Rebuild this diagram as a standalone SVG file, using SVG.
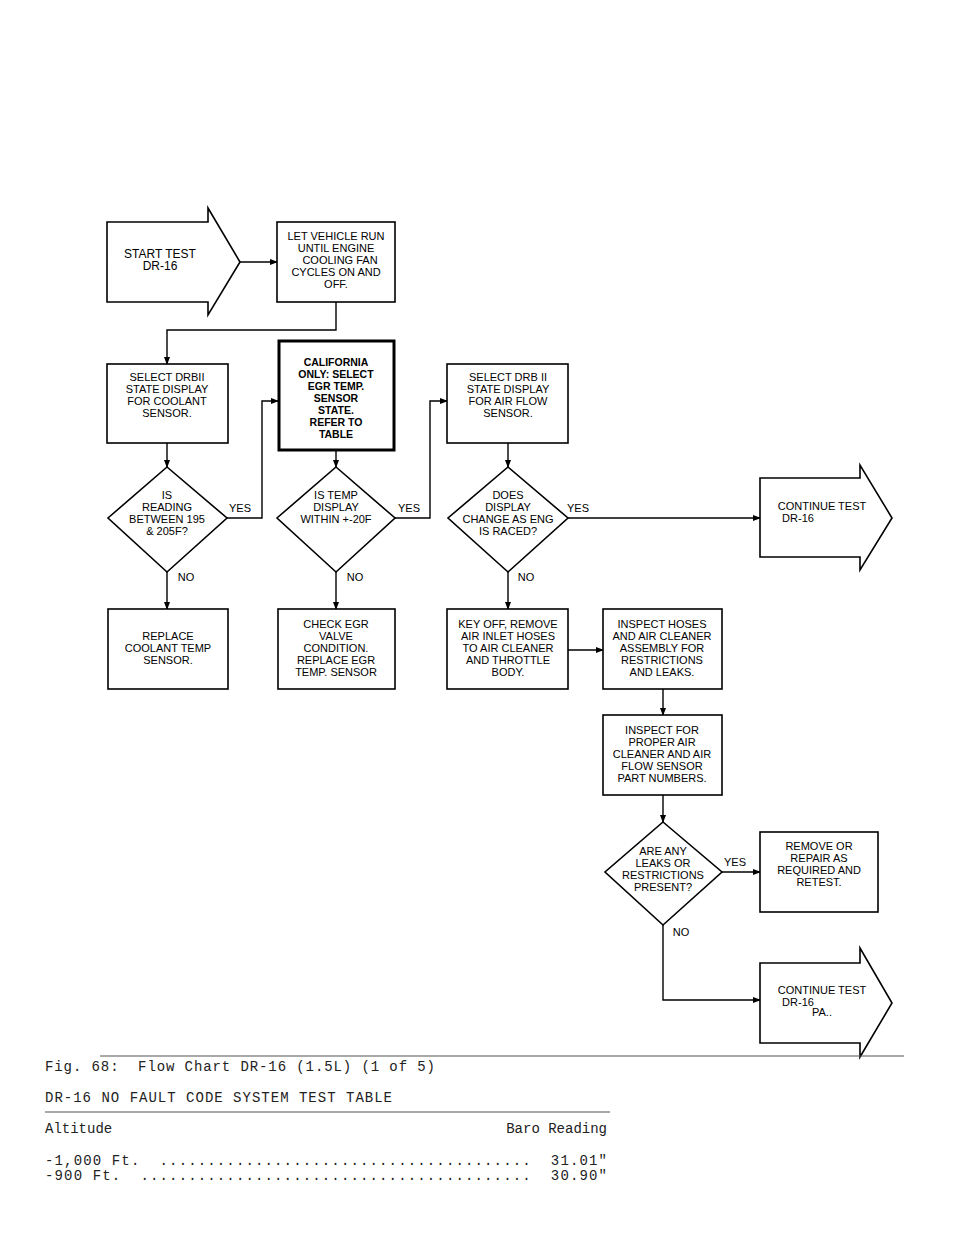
<svg xmlns="http://www.w3.org/2000/svg" width="960" height="1242" viewBox="0 0 960 1242">
<style>
.s{fill:#fff;stroke:#000;stroke-width:1.6}
.b{fill:#fff;stroke:#000;stroke-width:3}
.c{stroke:#000;stroke-width:1.4;fill:none}
text{font-family:"Liberation Sans",Arial,sans-serif;font-size:11px;fill:#000;text-anchor:middle}
.bold{font-weight:bold;font-size:10.5px}
.m{font-family:"Liberation Mono","Courier New",monospace;font-size:14px;text-anchor:start;fill:#222;white-space:pre}
</style>
<defs><marker id="a" markerWidth="8" markerHeight="6" refX="7" refY="3" orient="auto" markerUnits="userSpaceOnUse"><path d="M0,0 L8,3 L0,6 z" fill="#000"/></marker></defs>
<rect width="960" height="1242" fill="#fff"/>
<g id="connectors" class="c">
<path d="M240,262 H277" marker-end="url(#a)"/>
<path d="M336,302 V330 H167 V364" marker-end="url(#a)"/>
<path d="M167,443 V467" marker-end="url(#a)"/>
<path d="M336,451 V467" marker-end="url(#a)"/>
<path d="M508,443 V467" marker-end="url(#a)"/>
<path d="M227,518 H262 V401 H278" marker-end="url(#a)"/>
<path d="M395,518 H430 V401 H447" marker-end="url(#a)"/>
<path d="M568,518 H760" marker-end="url(#a)"/>
<path d="M167,572 V609" marker-end="url(#a)"/>
<path d="M336,572 V609" marker-end="url(#a)"/>
<path d="M508,572 V609" marker-end="url(#a)"/>
<path d="M568,650 H603" marker-end="url(#a)"/>
<path d="M663,689 V715" marker-end="url(#a)"/>
<path d="M663,795 V822" marker-end="url(#a)"/>
<path d="M722,872 H760" marker-end="url(#a)"/>
<path d="M663,925 V1000 H760" marker-end="url(#a)"/>
</g>
<g id="labels">
<text x="240" y="512">YES</text><text x="409" y="512">YES</text><text x="578" y="512">YES</text><text x="735" y="866">YES</text>
<text x="186" y="581">NO</text><text x="355" y="581">NO</text><text x="526" y="581">NO</text><text x="681" y="936">NO</text>
</g>
<g id="start"><polygon class="s" points="107,222 208,222 208,208 240,262 208,315 208,302 107,302"/><text x="160" y="258" style="font-size:12px">START TEST</text><text x="160" y="270" style="font-size:12px">DR-16</text></g>
<g id="letrun"><rect class="s" x="277" y="222" width="118" height="80"/><text x="336" y="240">LET VEHICLE RUN</text><text x="336" y="252">UNTIL ENGINE</text><text x="340" y="264">COOLING FAN</text><text x="336" y="276">CYCLES ON AND</text><text x="336" y="288">OFF.</text></g>
<g id="selcool"><rect class="s" x="107" y="364" width="121" height="79"/><text x="167" y="381">SELECT DRBII</text><text x="167" y="393">STATE DISPLAY</text><text x="167" y="405">FOR COOLANT</text><text x="167" y="417">SENSOR.</text></g>
<g id="calif"><rect class="b" x="279" y="341" width="115" height="109"/><text class="bold" x="336" y="366">CALIFORNIA</text><text class="bold" x="336" y="378">ONLY: SELECT</text><text class="bold" x="336" y="390">EGR TEMP.</text><text class="bold" x="336" y="402">SENSOR</text><text class="bold" x="336" y="414">STATE.</text><text class="bold" x="336" y="426">REFER TO</text><text class="bold" x="336" y="438">TABLE</text></g>
<g id="selair"><rect class="s" x="447" y="364" width="121" height="79"/><text x="508" y="381">SELECT DRB II</text><text x="508" y="393">STATE DISPLAY</text><text x="508" y="405">FOR AIR FLOW</text><text x="508" y="417">SENSOR.</text></g>
<g id="d1"><polygon class="s" points="167,467 227,518 167,572 108,518"/><text x="167" y="499">IS</text><text x="167" y="511">READING</text><text x="167" y="523">BETWEEN 195</text><text x="167" y="535">&amp; 205F?</text></g>
<g id="d2"><polygon class="s" points="336,467 395,518 336,572 277,518"/><text x="336" y="499">IS TEMP</text><text x="336" y="511">DISPLAY</text><text x="336" y="523">WITHIN +-20F</text></g>
<g id="d3"><polygon class="s" points="508,467 568,518 508,572 448,518"/><text x="508" y="499">DOES</text><text x="508" y="511">DISPLAY</text><text x="508" y="523">CHANGE AS ENG</text><text x="508" y="535">IS RACED?</text></g>
<g id="cont1"><polygon class="s" points="760,478 860,478 860,465 892,518 860,570 860,557 760,557"/><text x="822" y="510">CONTINUE TEST</text><text x="798" y="522">DR-16</text></g>
<g id="replace"><rect class="s" x="108" y="609" width="120" height="80"/><text x="168" y="640">REPLACE</text><text x="168" y="652">COOLANT TEMP</text><text x="168" y="664">SENSOR.</text></g>
<g id="checkegr"><rect class="s" x="278" y="609" width="117" height="80"/><text x="336" y="628">CHECK EGR</text><text x="336" y="640">VALVE</text><text x="336" y="652">CONDITION.</text><text x="336" y="664">REPLACE EGR</text><text x="336" y="676">TEMP. SENSOR</text></g>
<g id="keyoff"><rect class="s" x="447" y="609" width="121" height="80"/><text x="508" y="628">KEY OFF, REMOVE</text><text x="508" y="640">AIR INLET HOSES</text><text x="508" y="652">TO AIR CLEANER</text><text x="508" y="664">AND THROTTLE</text><text x="508" y="676">BODY.</text></g>
<g id="hoses"><rect class="s" x="603" y="609" width="119" height="80"/><text x="662" y="628">INSPECT HOSES</text><text x="662" y="640">AND AIR CLEANER</text><text x="662" y="652">ASSEMBLY FOR</text><text x="662" y="664">RESTRICTIONS</text><text x="662" y="676">AND LEAKS.</text></g>
<g id="proper"><rect class="s" x="603" y="715" width="119" height="80"/><text x="662" y="734">INSPECT FOR</text><text x="662" y="746">PROPER AIR</text><text x="662" y="758">CLEANER AND AIR</text><text x="662" y="770">FLOW SENSOR</text><text x="662" y="782">PART NUMBERS.</text></g>
<g id="d4"><polygon class="s" points="663,822 722,872 663,925 605,872"/><text x="663" y="855">ARE ANY</text><text x="663" y="867">LEAKS OR</text><text x="663" y="879">RESTRICTIONS</text><text x="663" y="891">PRESENT?</text></g>
<g id="remove"><rect class="s" x="760" y="832" width="118" height="80"/><text x="819" y="850">REMOVE OR</text><text x="819" y="862">REPAIR AS</text><text x="819" y="874">REQUIRED AND</text><text x="819" y="886">RETEST.</text></g>
<g id="cont2"><polygon class="s" points="760,963 860,963 860,948 892,1003 860,1057 860,1043 760,1043"/><text x="822" y="994">CONTINUE TEST</text><text x="798" y="1006">DR-16</text><text x="822" y="1016">PA..</text></g>
<g id="footer">
<line x1="100" y1="1056" x2="904" y2="1056" stroke="#555" stroke-width="1"/>
<text class="m" x="45" y="1071" textLength="390" lengthAdjust="spacing">Fig. 68:  Flow Chart DR-16 (1.5L) (1 of 5)</text>
<text class="m" x="45" y="1102" textLength="347" lengthAdjust="spacing">DR-16 NO FAULT CODE SYSTEM TEST TABLE</text>
<line x1="45" y1="1112" x2="610" y2="1112" stroke="#555" stroke-width="1"/>
<text class="m" x="45" y="1133">Altitude</text>
<text class="m" x="607" y="1133" style="text-anchor:end">Baro Reading</text>
<text class="m" x="45" y="1165" textLength="562" lengthAdjust="spacing">-1,000 Ft.  .......................................  31.01"</text>
<text class="m" x="45" y="1180" textLength="562" lengthAdjust="spacing">-900 Ft.  .........................................  30.90"</text>
</g>
</svg>
